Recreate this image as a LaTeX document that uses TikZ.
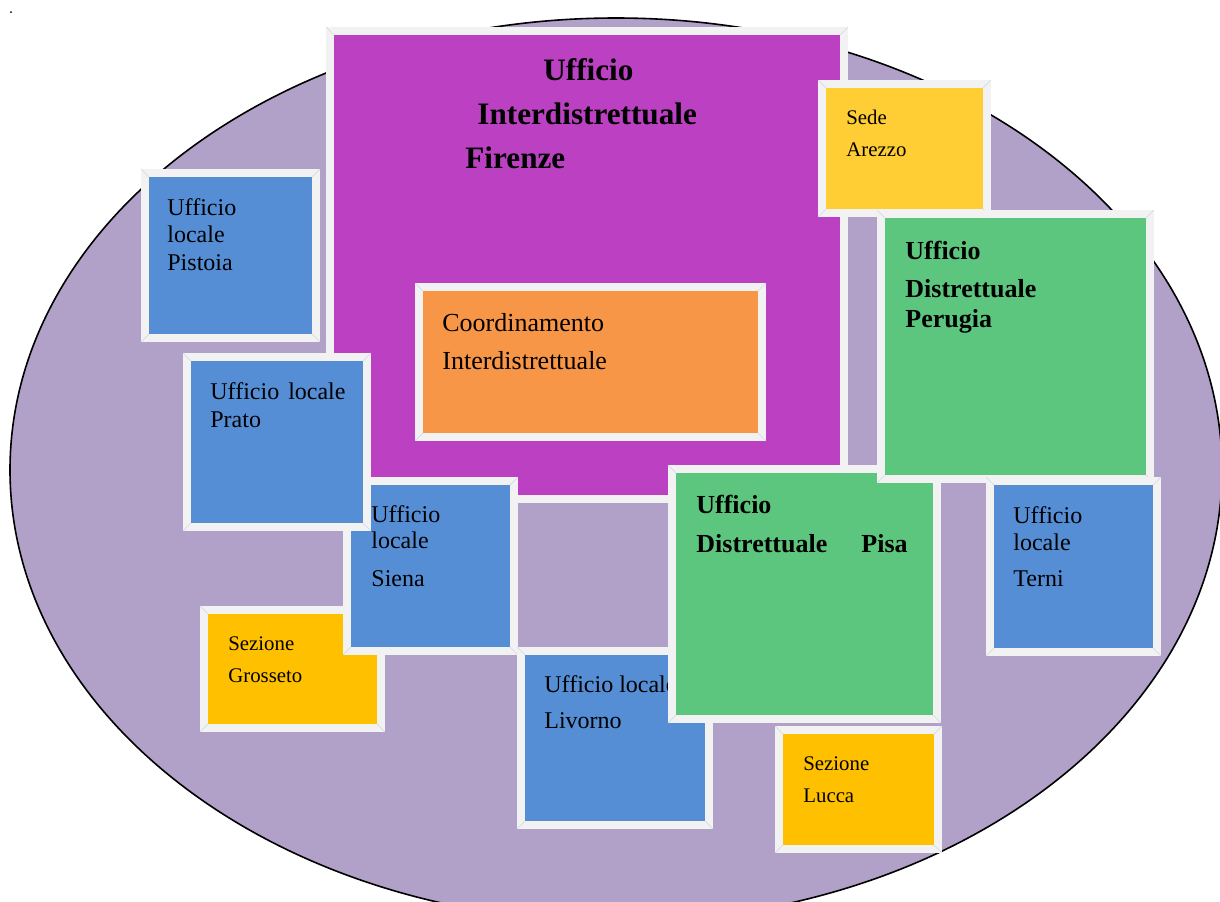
\documentclass[tikz,border=0pt]{standalone}
\usepackage{fontspec}
\setmainfont{Liberation Serif}
\usetikzlibrary{fit,shapes.geometric}
\definecolor{ellfill}{RGB}{177,160,199}
\definecolor{purplebox}{RGB}{188,65,194}
\definecolor{orangebox}{RGB}{247,150,70}
\definecolor{bluebox}{RGB}{85,142,213}
\definecolor{greenbox}{RGB}{92,198,126}
\definecolor{sedebox}{RGB}{255,205,52}
\definecolor{sezbox}{RGB}{255,192,0}
\definecolor{framegray}{RGB}{242,242,242}
\definecolor{bevelc}{RGB}{205,215,232}
\newcommand\bevelcorners[1]{%
  \draw[bevelline] ([shift={(-4,-4)}]#1.north west) -- ([shift={(4,4)}]#1.north west)
    ([shift={(4,-4)}]#1.north east) -- ([shift={(-4,4)}]#1.north east)
    ([shift={(-4,4)}]#1.south west) -- ([shift={(4,-4)}]#1.south west)
    ([shift={(4,4)}]#1.south east) -- ([shift={(-4,-4)}]#1.south east);}
\begin{document}
\begin{tikzpicture}[x=0.5pt,y=-0.5pt,
  panel/.style={draw=framegray, line width=4pt, inner sep=0pt, outer sep=0pt},
  bevelline/.style={bevelc, line width=0.3pt},
  txt/.style={anchor=base west, inner sep=0pt, text=black, font=\fontsize{12}{14}\selectfont},
  txtsmall/.style={txt, font=\fontsize{10.4}{12}\selectfont},
  txtmid/.style={txt, font=\fontsize{13}{15}\selectfont},
  txtbold/.style={txt, font=\fontsize{13}{15}\selectfont\bfseries},
  txttitle/.style={txt, font=\fontsize{15.6}{18}\selectfont\bfseries}]
\useasboundingbox (0,0) rectangle (1220,901);
\clip (0,0) rectangle (1220,901);
% outer ellipse
\node[draw=black, line width=0.8pt, fill=ellfill, ellipse, inner sep=0pt,
  minimum width=606pt, minimum height=452pt] (ell) at (616,470) {};
% stray dot
\fill[black] (11,12) circle[radius=0.5pt];
% Firenze
\node[panel, fill=purplebox, fit={(330,31) (844,499)}] (fir) {};
\bevelcorners{fir}
\node[txttitle] (fir1) at (543,80) {Ufficio};
\node[txttitle] (fir2) at (477,124) {Interdistrettuale};
\node[txttitle] (fir3) at (465,168) {Firenze};
% Coordinamento
\node[panel, fill=orangebox, fit={(419,287) (762,437)}] (coo) {};
\bevelcorners{coo}
\node[txtmid] (coo1) at (442,331) {Coordinamento};
\node[txtmid] (coo2) at (442,369) {Interdistrettuale};
% Pistoia
\node[panel, fill=bluebox, fit={(145,173) (316,338)}] (pis) {};
\bevelcorners{pis}
\node[txt] (pis1) at (167,215) {Ufficio};
\node[txt] (pis2) at (167,242) {locale};
\node[txt] (pis3) at (167,270) {Pistoia};
% Grosseto
\node[panel, fill=sezbox, fit={(204,610) (381,728)}] (gro) {};
\bevelcorners{gro}
\node[txtsmall] (gro1) at (228,650) {Sezione};
\node[txtsmall] (gro2) at (228,682) {Grosseto};
% Siena
\node[panel, fill=bluebox, fit={(347,481) (514,651)}] (sie) {};
\bevelcorners{sie}
\node[txt] (sie1) at (371,522) {Ufficio};
\node[txt] (sie2) at (371,548) {locale};
\node[txt] (sie3) at (371,586) {Siena};
% Prato
\node[panel, fill=bluebox, fit={(187,357) (367,527)}] (pra) {};
\bevelcorners{pra}
\node[txt] (pra1) at (210,399) {Ufficio\hspace{4.5pt}locale};
\node[txt] (pra2) at (210,427) {Prato};
% Livorno
\node[panel, fill=bluebox, fit={(521,651) (709,825)}] (liv) {};
\bevelcorners{liv}
\node[txt] (liv1) at (544,692) {Ufficio locale};
\node[txt] (liv2) at (544,728) {Livorno};
% Pisa
\node[panel, fill=greenbox, fit={(672,469) (937,719)}] (psa) {};
\bevelcorners{psa}
\node[txtbold] (psa1) at (696,513) {Ufficio};
\node[txtbold] (psa2) at (696,552) {Distrettuale};
\node[txtbold] (psa3) at (861,552) {Pisa};
% Lucca
\node[panel, fill=sezbox, fit={(779,730) (938,849)}] (luc) {};
\bevelcorners{luc}
\node[txtsmall] (luc1) at (803,770) {Sezione};
\node[txtsmall] (luc2) at (803,802) {Lucca};
% Arezzo
\node[panel, fill=sedebox, fit={(822,84) (987,213)}] (are) {};
\bevelcorners{are}
\node[txtsmall] (are1) at (846,124) {Sede};
\node[txtsmall] (are2) at (846,156) {Arezzo};
% Perugia
\node[panel, fill=greenbox, fit={(881,214) (1150,479)}] (per) {};
\bevelcorners{per}
\node[txtbold] (per1) at (905,259) {Ufficio};
\node[txtbold] (per2) at (905,297) {Distrettuale};
\node[txtbold] (per3) at (905,327) {Perugia};
% Terni
\node[panel, fill=bluebox, fit={(990,481) (1157,652)}] (ter) {};
\bevelcorners{ter}
\node[txt] (ter1) at (1013,523) {Ufficio};
\node[txt] (ter2) at (1013,550) {locale};
\node[txt] (ter3) at (1013,586) {Terni};
\end{tikzpicture}
\end{document}
